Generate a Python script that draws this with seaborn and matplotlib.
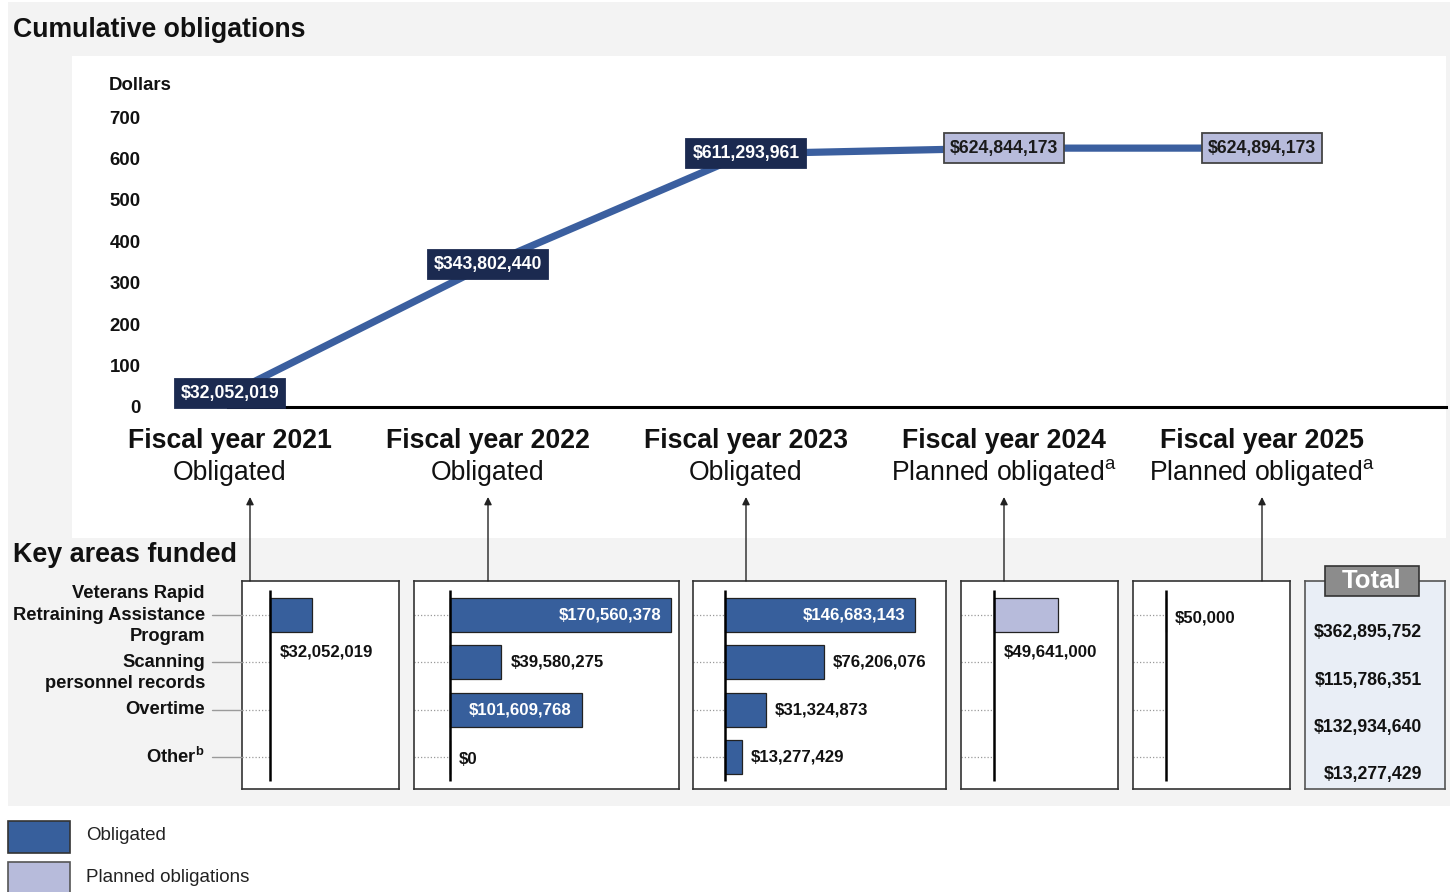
import matplotlib
matplotlib.use("Agg")
import matplotlib.pyplot as plt
import pandas as pd
import seaborn as sns
from matplotlib.lines import Line2D
from matplotlib.patches import Rectangle, FancyArrowPatch
from matplotlib.transforms import blended_transform_factory

# ---------------- data ----------------
fiscal_years = ["Fiscal year 2021", "Fiscal year 2022", "Fiscal year 2023",
                "Fiscal year 2024", "Fiscal year 2025"]
year_status = ["Obligated", "Obligated", "Obligated", "Planned", "Planned"]
cumulative = [32052019, 343802440, 611293961, 624844173, 624894173]
y_ticks = [0, 100, 200, 300, 400, 500, 600, 700]

areas = ["Veterans Rapid Retraining Assistance Program",
         "Scanning personnel records", "Overtime", "Other"]
area_labels = ["Veterans Rapid\nRetraining Assistance\nProgram",
               "Scanning\npersonnel records", "Overtime",
               r"Other$^{\mathbf{b}}$"]
fy2021 = [32052019, None, None, None]
fy2022 = [170560378, 39580275, 101609768, 0]
fy2023 = [146683143, 76206076, 31324873, 13277429]
fy2024 = [49641000, None, None, None]
fy2025 = [50000, None, None, None]
by_year = [fy2021, fy2022, fy2023, fy2024, fy2025]
totals = [362895752, 115786351, 132934640, 13277429]

legend_labels = ["Obligated", "Planned obligations"]

# ---------------- styling ----------------
BLUE = "#375f9c"
LINE = "#3b5f9f"
NAVY = "#1b2a50"
LAVENDER = "#b7bbdb"
GRAY_BG = "#f3f3f3"
TOTAL_BG = "#e9eef6"
EDGE = "#333333"
INK = "#111111"

sns.set_theme(style="white")
FONT = "Liberation Sans"
plt.rcParams["font.family"] = [FONT, "DejaVu Sans"]
plt.rcParams["mathtext.fontset"] = "custom"
plt.rcParams["mathtext.rm"] = FONT
plt.rcParams["mathtext.bf"] = f"{FONT}:bold"

W, H = 1450, 892
fig = plt.figure(figsize=(W / 100, H / 100), dpi=100)
fig.patch.set_facecolor("white")


def fx(px):
    return px / W


def fy(py):
    return 1 - py / H


def px_axes(x0, y0, x1, y1):
    return fig.add_axes([fx(x0), fy(y1), (x1 - x0) / W, (y1 - y0) / H])


def fig_rect(x0, y0, x1, y1, **kw):
    r = Rectangle((fx(x0), fy(y1)), (x1 - x0) / W, (y1 - y0) / H,
                  transform=fig.transFigure, **kw)
    fig.add_artist(r)
    return r


# background bands
fig_rect(8, 2, 1450, 806, facecolor=GRAY_BG, edgecolor="none", zorder=-10)
fig_rect(72, 56, 1446, 538, facecolor="white", edgecolor="none", zorder=-9)

fig.text(fx(13), fy(30), "Cumulative obligations", ha="left", va="center",
         fontsize=19.2, fontweight="bold", color=INK)
fig.text(fx(13), fy(555), "Key areas funded", ha="left", va="center",
         fontsize=19.4, fontweight="bold", color=INK)

# ---------------- cumulative line chart ----------------
FY_X0, FY_STEP = 230, 258
AX_L, AX_R, AX_T, AX_B = 145, 1446, 117, 407
ax = px_axes(AX_L, AX_T, AX_R, AX_B)
ax.patch.set_alpha(0)

idx = list(range(len(cumulative)))
cum_m = [v / 1e6 for v in cumulative]
sns.lineplot(x=idx, y=cum_m, ax=ax, color=LINE, linewidth=5.2,
             solid_capstyle="butt", legend=False)

ax.set_xlim((AX_L - FY_X0) / FY_STEP, 4 + (AX_R - (FY_X0 + 4 * FY_STEP)) / FY_STEP)
ax.set_ylim(0, 700)
ax.set_xticks([])
ax.set_yticks(y_ticks)
ax.set_yticklabels([str(t) for t in y_ticks], fontweight="bold",
                   fontsize=13.4, color=INK)
ax.tick_params(axis="y", length=0, pad=3)
ax.set_xlabel("")
ax.set_ylabel("")
for s in ("top", "right", "left"):
    ax.spines[s].set_visible(False)
ax.spines["bottom"].set_color("black")
ax.spines["bottom"].set_linewidth(2.2)
ax.spines["bottom"].set_bounds((228 - FY_X0) / FY_STEP, ax.get_xlim()[1])

fig.text(fx(109), fy(85), "Dollars", ha="left", va="center",
         fontsize=13.4, fontweight="bold", color=INK)

for i, v in enumerate(cumulative):
    planned = year_status[i] == "Planned"
    ax.text(i, v / 1e6, f"${v:,}", ha="center", va="center",
            fontsize=12.7, fontweight="bold",
            color="#1a1a1a" if planned else "white", zorder=5,
            bbox=dict(boxstyle="square,pad=0.35",
                      facecolor=LAVENDER if planned else NAVY,
                      edgecolor="#444444" if planned else NAVY,
                      linewidth=1.3))

trans = blended_transform_factory(ax.transData, fig.transFigure)
for i, name in enumerate(fiscal_years):
    ax.text(i, fy(441), name, transform=trans, ha="center", va="center",
            fontsize=19.2, fontweight="bold", color=INK)
    sub = "Obligated" if year_status[i] == "Obligated" else r"Planned obligated$^{\rm a}$"
    ax.text(i, fy(473), sub, transform=trans, ha="center", va="center",
            fontsize=19.2, color=INK)

# ---------------- key areas panels ----------------
PANELS = [(242, 399), (414, 679), (693, 946), (961, 1118), (1133, 1290)]
AXIS_OFF = [28, 36, 32, 33, 33]
LABEL_BELOW = [True, False, False, True, False]
P_TOP, P_BOT = 581, 789
ROW_Y0, ROW_STEP = 615, 47.3
PX_PER_M = 1.295
PT = 0.72  # points per pixel
INSIDE_PX = 120  # bars wider than this carry their label inside

ylim = (3 + (P_BOT - (ROW_Y0 + 3 * ROW_STEP)) / ROW_STEP, -(ROW_Y0 - P_TOP) / ROW_STEP)

for i, ((x0, x1), vals) in enumerate(zip(PANELS, by_year)):
    pax = px_axes(x0, P_TOP, x1, P_BOT)
    pax.set_facecolor("white")
    df = pd.DataFrame({"area": areas, "value": vals}).dropna()
    df["millions"] = df["value"].astype(float) / 1e6
    planned = year_status[i] == "Planned"
    sns.barplot(data=df, x="millions", y="area", order=areas, orient="h",
                color=LAVENDER if planned else BLUE, saturation=1,
                width=0.72, edgecolor="#222222", linewidth=0.9,
                errorbar=None, ax=pax)
    off = AXIS_OFF[i]
    xmin = -off / PX_PER_M
    pax.set_xlim(xmin, (x1 - x0 - off) / PX_PER_M)
    pax.set_ylim(*ylim)
    pax.set_xticks([])
    pax.set_yticks([])
    pax.set_xlabel("")
    pax.set_ylabel("")
    for s in pax.spines.values():
        s.set_visible(True)
        s.set_color(EDGE)
        s.set_linewidth(1.2)
    pax.hlines(range(len(areas)), xmin, 0, colors="#9a9a9a", linewidth=0.9,
               linestyles=(0, (1, 1.6)), zorder=1)
    pax.vlines(0, -(ROW_Y0 - 590) / ROW_STEP, 3 + (781 - (ROW_Y0 + 3 * ROW_STEP)) / ROW_STEP,
               colors="black", linewidth=1.8, zorder=4)

    for r, v in enumerate(vals):
        if v is None:
            continue
        m = v / 1e6
        text = f"${v:,}"
        style = dict(textcoords="offset points", va="center", fontsize=12.1,
                     fontweight="bold", zorder=6)
        if m * PX_PER_M > INSIDE_PX:
            pax.annotate(text, (m, r), xytext=(-10 * PT, 0), ha="right",
                         color="white", **style)
        elif LABEL_BELOW[i]:
            pax.annotate(text, (0, r), xytext=(10 * PT, -37 * PT), ha="left",
                         color=INK, **style)
        else:
            pax.annotate(text, (m, r), xytext=(9 * PT, -3 * PT if m < 1 else 0),
                         ha="left", color=INK, **style)

    # arrow from panel up to the fiscal-year heading
    label_px = FY_X0 + FY_STEP * i
    arrow_px = min(max(label_px, x0 + 8), x1 - 8)
    fig.add_artist(FancyArrowPatch((fx(arrow_px), fy(P_TOP)), (fx(arrow_px), fy(497)),
                                   transform=fig.transFigure, arrowstyle="-|>",
                                   mutation_scale=11, linewidth=1.0, color="#222222",
                                   shrinkA=0, shrinkB=0))

# category labels and leader lines
LABEL_DY = [0, 11, 0, 0]
for r, lab in enumerate(area_labels):
    ry = ROW_Y0 + ROW_STEP * r
    fig.text(fx(205), fy(ry + LABEL_DY[r]), lab, ha="right", va="center",
             fontsize=13.2, fontweight="bold", color=INK, linespacing=1.32)
    fig.add_artist(Line2D([fx(212), fx(PANELS[0][0])], [fy(ry), fy(ry)],
                          transform=fig.transFigure, color="#9a9a9a", linewidth=1.0))

# totals column
tax = px_axes(1305, P_TOP, 1445, P_BOT)
tax.set_facecolor(TOTAL_BG)
tax.set_xticks([])
tax.set_yticks([])
for s in tax.spines.values():
    s.set_visible(True)
    s.set_color("#555555")
    s.set_linewidth(1.2)
for r, v in enumerate(totals):
    fig.text(fx(1422), fy(ROW_Y0 + ROW_STEP * r + 18), f"${v:,}", ha="right",
             va="center", fontsize=12.7, fontweight="bold", color=INK)
fig_rect(1325, 566, 1419, 596, facecolor="#8c8c8c", edgecolor=EDGE,
         linewidth=1.2, zorder=5)
fig.text(fx(1372), fy(581), "Total", ha="center", va="center", color="white",
         fontsize=18.5, fontweight="bold", zorder=6)

# ---------------- legend ----------------
legend_colors = [(BLUE, "#333333"), (LAVENDER, "#555555")]
legend_rows = [(821, 853), (862, 894)]
for (top, bot), (fc, ec), lab in zip(legend_rows, legend_colors, legend_labels):
    fig_rect(8, top, 70, bot, facecolor=fc, edgecolor=ec, linewidth=1.2, zorder=2)
    fig.text(fx(86), fy((top + bot) / 2 - 1), lab, ha="left", va="center",
             fontsize=13.5, color="#222222")

fig.savefig("out.png", dpi=100)
